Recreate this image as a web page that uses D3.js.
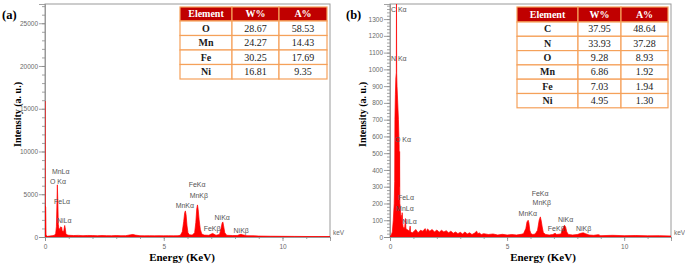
<!DOCTYPE html>
<html>
<head>
<meta charset="utf-8">
<script src="https://cdn.jsdelivr.net/npm/d3@7"></script>
<style>
  body { margin: 0; background: #fff; }
  svg { display: block; }
</style>
</head>
<body>
<div id="chart"></div>
<script>
// spectrum (a): energy in keV, intensity in counts
const energyA = [
  0.000, 0.004, 0.030, 0.045, 0.10, 0.20, 0.30, 0.40, 0.45, 0.48,
  0.50, 0.52, 0.54, 0.56, 0.58, 0.60, 0.62, 0.64, 0.66, 0.68,
  0.70, 0.72, 0.74, 0.76, 0.78, 0.80, 0.83, 0.86, 0.88, 0.92,
  1.00, 1.20, 1.40, 1.60, 1.80, 2.00, 2.20, 2.40, 2.60, 2.80,
  3.00, 3.20, 3.40, 3.60, 3.70, 3.80, 4.00, 4.20, 4.40, 4.60,
  4.80, 5.00, 5.20, 5.40, 5.60, 5.70, 5.78, 5.84, 5.88, 5.91,
  5.94, 5.98, 6.02, 6.08, 6.20, 6.30, 6.35, 6.39, 6.42, 6.45,
  6.49, 6.54, 6.60, 6.70, 6.90, 7.00, 7.06, 7.12, 7.20, 7.35,
  7.41, 7.46, 7.49, 7.52, 7.57, 7.65, 7.90, 8.10, 8.20, 8.26,
  8.32, 8.50, 8.80, 9.00, 9.50, 10.0, 10.5, 11.0, 11.5, 12.0,
];
const countsA = [
  15900, 3700, 3500, 200, 80, 120, 150, 200, 400, 1200,
  3500, 6100, 4200, 1500, 1100, 700, 1000, 800, 1200, 900,
  1150, 800, 600, 700, 500, 900, 1350, 900, 400, 250,
  200, 170, 190, 160, 180, 170, 150, 170, 160, 150,
  170, 150, 160, 250, 300, 220, 150, 140, 150, 140,
  150, 140, 150, 140, 150, 200, 600, 1800, 2800, 3050,
  2600, 1300, 500, 250, 220, 500, 1700, 3300, 3750, 3200,
  2000, 900, 350, 220, 200, 350, 420, 320, 200, 300,
  1000, 1650, 1760, 1300, 500, 200, 170, 180, 280, 320,
  250, 150, 140, 110, 90, 80, 70, 60, 50, 50,
];

// spectrum (b)
const energyB = [
  0.00, 0.05, 0.10, 0.14, 0.18, 0.20, 0.21, 0.23, 0.25, 0.27,
  0.277, 0.285, 0.30, 0.33, 0.36, 0.38, 0.39, 0.40, 0.41, 0.42,
  0.44, 0.46, 0.48, 0.50, 0.52, 0.54, 0.56, 0.60, 0.63, 0.66,
  0.68, 0.72, 0.78, 0.83, 0.86, 0.88, 0.95, 1.00, 1.10, 1.20,
  1.30, 1.40, 1.50, 1.55, 1.60, 1.70, 1.80, 1.90, 2.00, 2.10,
  2.20, 2.30, 2.40, 2.50, 2.60, 2.70, 2.80, 2.90, 3.00, 3.10,
  3.20, 3.30, 3.40, 3.50, 3.60, 3.70, 3.75, 3.80, 3.90, 4.00,
  4.20, 4.40, 4.60, 4.80, 5.00, 5.20, 5.40, 5.60, 5.70, 5.80,
  5.85, 5.90, 5.93, 5.97, 6.02, 6.10, 6.20, 6.30, 6.37, 6.42,
  6.46, 6.50, 6.55, 6.65, 6.80, 6.95, 7.05, 7.12, 7.30, 7.38,
  7.45, 7.50, 7.55, 7.62, 7.80, 8.00, 8.15, 8.25, 8.35, 8.50,
  8.70, 8.90, 9.00, 9.50, 10.0, 10.5, 11.0, 11.5, 12.0,
];
const countsB = [
  5, 10, 30, 100, 200, 330, 700, 850, 950, 980,
  1450, 975, 900, 800, 700, 600, 550, 300, 510, 200,
  180, 120, 130, 90, 145, 80, 60, 50, 60, 110,
  50, 45, 40, 35, 65, 30, 25, 30, 45, 25,
  40, 35, 50, 30, 48, 35, 45, 30, 42, 28,
  40, 30, 38, 25, 35, 22, 30, 20, 28, 18,
  30, 18, 25, 15, 22, 35, 18, 25, 15, 20,
  15, 18, 12, 16, 12, 15, 12, 16, 20, 50,
  90, 100, 85, 40, 20, 15, 18, 40, 100, 120,
  95, 60, 25, 15, 12, 15, 22, 15, 18, 50,
  70, 60, 30, 15, 12, 15, 22, 25, 20, 12,
  10, 14, 8, 10, 8, 9, 7, 8, 6,
];

// peak labels: [text, keV, counts] anchor in data units
const peakLabelsA = [
  ['MnLα', 0.29, 7400], ['O Kα', 0.21, 6250], ['FeLα', 0.38, 3900], ['NiLα', 0.50, 1600],
  ['FeKα', 6.05, 5800], ['MnKβ', 6.09, 4600], ['MnKα', 5.50, 3350],
  ['NiKα', 7.14, 1950], ['FeKβ', 6.68, 750], ['NiKβ', 7.94, 500],
];
const peakLabelsB = [
  ['C Kα', 0.04, 1340], ['N Kα', 0.04, 1050], ['O Kα', 0.21, 566],
  ['FeLα', 0.34, 218], ['MnLα', 0.26, 158], ['NiLα', 0.52, 75],
  ['FeKα', 6.05, 247], ['MnKβ', 6.09, 188], ['MnKα', 5.49, 128],
  ['NiKα', 7.17, 92], ['FeKβ', 6.74, 33], ['NiKβ', 7.94, 33],
];

// composition tables
const tableHeader = ['Element', 'W%', 'A%'];
const elementsA = ['O', 'Mn', 'Fe', 'Ni'];
const weightA = ['28.67', '24.27', '30.25', '16.81'];
const atomicA = ['58.53', '14.43', '17.69', '9.35'];
const elementsB = ['C', 'N', 'O', 'Mn', 'Fe', 'Ni'];
const weightB = ['37.95', '33.93', '9.28', '6.86', '7.03', '4.95'];
const atomicB = ['48.64', '37.28', '8.93', '1.92', '1.94', '1.30'];

const SANS = "'Liberation Sans', Arial, sans-serif";
const SERIF = "'Liberation Serif', 'Times New Roman', serif";
const RED = '#ff0000';

const svg = d3.select('#chart')
  .append('svg')
  .attr('width', 685)
  .attr('height', 266);

const styleAxis = (sel, keepDomain) => {
  sel.selectAll('line').attr('stroke', '#8c8c8c').attr('stroke-width', 0.8);
  sel.selectAll('text').attr('fill', '#6a6a6a').style('font-family', SANS).style('font-size', '6.5px');
  if (keepDomain) {
    sel.select('.domain').attr('stroke', '#8c8c8c').attr('stroke-width', 0.8);
  } else {
    sel.select('.domain').remove();
  }
};

const drawTable = (g, t) => {
  const cols = [t.left];
  t.widths.forEach((w) => cols.push(cols[cols.length - 1] + w));
  const rows = [tableHeader].concat(t.elements.map((e, i) => [e, t.weight[i], t.atomic[i]]));
  rows.forEach((row, r) => {
    const y0 = r === 0 ? t.top : t.top + t.headerH + (r - 1) * t.rowH;
    const h = r === 0 ? t.headerH : t.rowH;
    row.forEach((cell, c) => {
      g.append('rect')
        .attr('x', cols[c])
        .attr('y', y0)
        .attr('width', cols[c + 1] - cols[c])
        .attr('height', h)
        .attr('fill', r === 0 ? '#c00000' : '#fff')
        .attr('stroke', '#f5a15a')
        .attr('stroke-width', 1.2);
      g.append('text')
        .attr('x', (cols[c] + cols[c + 1]) / 2)
        .attr('y', y0 + h / 2 + 3.3)
        .attr('text-anchor', 'middle')
        .style('font-family', SERIF)
        .style('font-size', '10px')
        .style('font-weight', r === 0 || c === 0 ? 'bold' : 'normal')
        .attr('fill', r === 0 ? '#fff' : '#1a1a1a')
        .text(cell);
    });
  });
};

const drawPanel = (p) => {
  const g = svg.append('g');

  const x = d3.scaleLinear().domain([0, 12]).range([p.left, p.right]);
  const y = d3.scaleLinear().domain([0, p.yMax]).range([p.bottom, p.top]);

  // frame
  g.append('rect')
    .attr('x', p.left)
    .attr('y', p.top)
    .attr('width', p.right - p.left)
    .attr('height', p.bottom - p.top)
    .attr('fill', 'none')
    .attr('stroke', '#9a9a9a')
    .attr('stroke-width', 1);

  // y axis, minor then major ticks
  g.append('g')
    .attr('transform', `translate(${p.left},0)`)
    .call(d3.axisLeft(y).tickValues(d3.range(0, p.yMax, p.yMinor)).tickSize(3).tickFormat(''))
    .call((s) => styleAxis(s, false));
  g.append('g')
    .attr('transform', `translate(${p.left},0)`)
    .call(d3.axisLeft(y).tickValues(d3.range(0, p.yMax, p.yMajor)).tickSize(6).tickPadding(1)
      .tickFormat(d3.format('d')))
    .call((s) => styleAxis(s, true));

  // x axis
  g.append('g')
    .attr('transform', `translate(0,${p.bottom})`)
    .call(d3.axisBottom(x).tickValues(d3.range(0, 13, 1)).tickSize(2).tickFormat(''))
    .call((s) => styleAxis(s, false));
  g.append('g')
    .attr('transform', `translate(0,${p.bottom})`)
    .call(d3.axisBottom(x).tickValues([0, 5, 10]).tickSize(4).tickPadding(3))
    .call((s) => styleAxis(s, true));

  g.append('text')
    .attr('x', p.right + 3)
    .attr('y', p.bottom - 2)
    .style('font-family', SANS)
    .style('font-size', '6.5px')
    .attr('fill', '#6a6a6a')
    .text('keV');

  // spectrum
  g.append('clipPath')
    .attr('id', `clip-${p.id}`)
    .append('rect')
    .attr('x', p.left)
    .attr('y', p.top)
    .attr('width', p.right - p.left)
    .attr('height', p.bottom - p.top);

  const data = d3.zip(p.energy, p.counts);
  const area = d3.area()
    .x((d) => x(d[0]))
    .y0(y(0))
    .y1((d) => y(d[1]));

  g.append('path')
    .datum(data)
    .attr('clip-path', `url(#clip-${p.id})`)
    .attr('fill', RED)
    .attr('stroke', RED)
    .attr('stroke-width', 0.7)
    .attr('stroke-linejoin', 'round')
    .attr('d', area);

  // peak labels
  g.selectAll('.peak')
    .data(p.labels)
    .join('text')
    .attr('x', (d) => x(d[1]))
    .attr('y', (d) => y(d[2]))
    .style('font-family', SANS)
    .style('font-size', '7px')
    .attr('fill', '#555')
    .text((d) => d[0]);

  // axis titles
  g.append('text')
    .attr('transform', `translate(${p.left - 24},${(p.top + p.bottom) / 2 - 6}) rotate(-90)`)
    .attr('text-anchor', 'middle')
    .style('font-family', SERIF)
    .style('font-size', '10px')
    .style('font-weight', 'bold')
    .text('Intensity (a. u.)');

  g.append('text')
    .attr('x', p.titleX)
    .attr('y', 261)
    .attr('text-anchor', 'middle')
    .style('font-family', SERIF)
    .style('font-size', '11px')
    .style('font-weight', 'bold')
    .text('Energy (KeV)');

  g.append('text')
    .attr('x', p.tagX)
    .attr('y', 19)
    .style('font-family', SERIF)
    .style('font-size', '12.5px')
    .style('font-weight', 'bold')
    .text(p.tag);

  drawTable(g, p.table);
};

drawPanel({
  id: 'a',
  tag: '(a)',
  tagX: 2,
  left: 45,
  right: 330,
  top: 4,
  bottom: 237,
  yMax: 27250,
  yMajor: 5000,
  yMinor: 1000,
  titleX: 182,
  energy: energyA,
  counts: countsA,
  labels: peakLabelsA,
  table: {
    left: 180,
    top: 7,
    widths: [52, 47, 48],
    headerH: 14,
    rowH: 14.5,
    elements: elementsA,
    weight: weightA,
    atomic: atomicA,
  },
});

drawPanel({
  id: 'b',
  tag: '(b)',
  tagX: 346,
  left: 390,
  right: 671,
  top: 4,
  bottom: 237,
  yMax: 1390,
  yMajor: 100,
  yMinor: 20,
  titleX: 543,
  energy: energyB,
  counts: countsB,
  labels: peakLabelsB,
  table: {
    left: 517,
    top: 7,
    widths: [61, 43, 47],
    headerH: 15,
    rowH: 14.3,
    elements: elementsB,
    weight: weightB,
    atomic: atomicB,
  },
});
</script>
</body>
</html>
